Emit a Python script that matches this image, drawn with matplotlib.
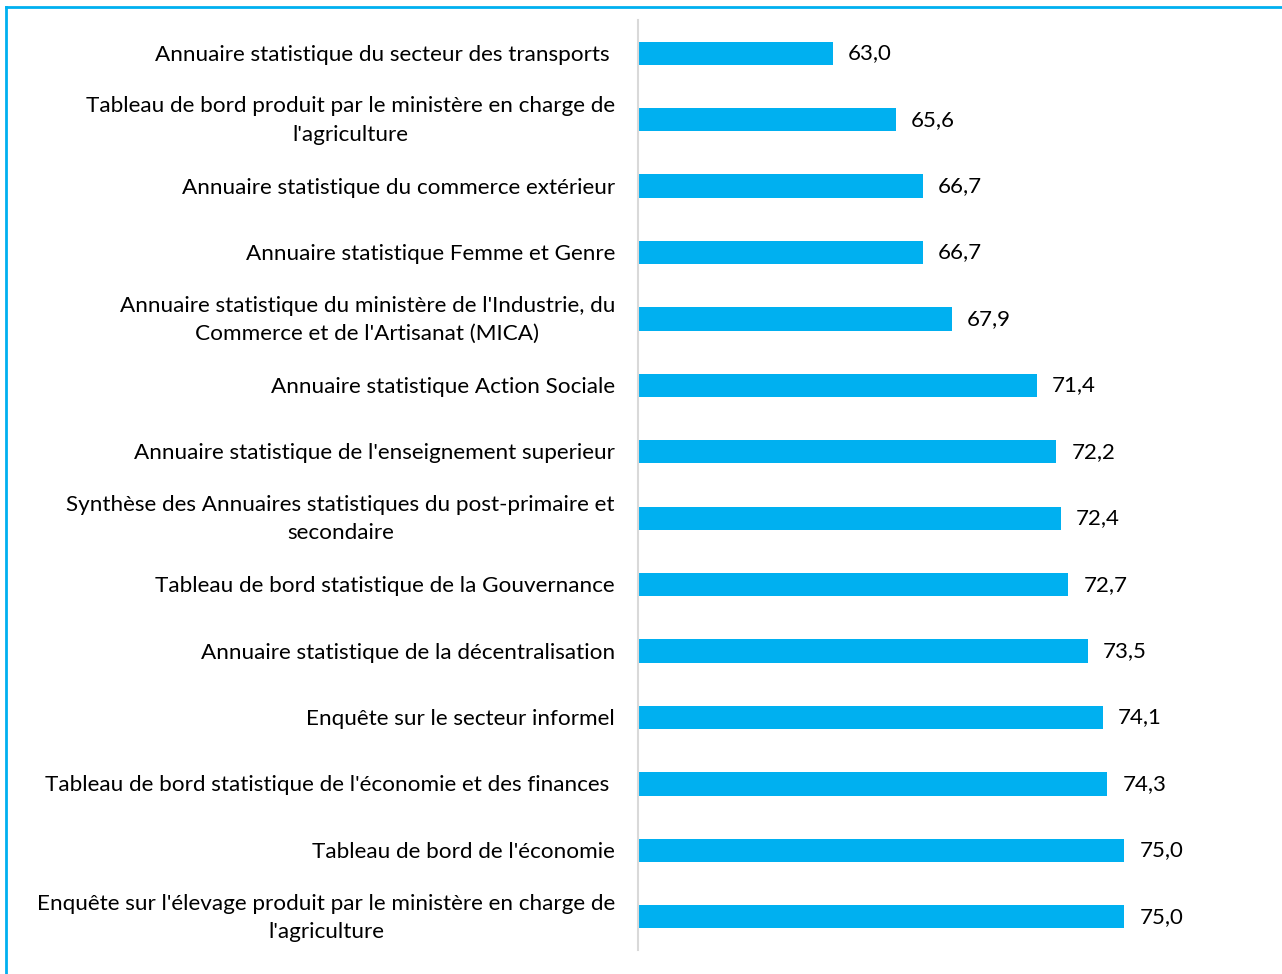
import matplotlib.pyplot as plt
from matplotlib.lines import Line2D
from matplotlib.transforms import offset_copy

plt.rcParams["font.family"] = ["Lato", "DejaVu Sans"]

labels = [
    "Annuaire statistique du secteur des transports ",
    "Tableau de bord produit par le ministère en charge de\nl'agriculture",
    "Annuaire statistique du commerce extérieur",
    "Annuaire statistique Femme et Genre",
    "Annuaire statistique du ministère de l'Industrie, du\nCommerce et de l'Artisanat (MICA)",
    "Annuaire statistique Action Sociale",
    "Annuaire statistique de l'enseignement superieur",
    "Synthèse des Annuaires statistiques du post-primaire et\nsecondaire",
    "Tableau de bord statistique de la Gouvernance",
    "Annuaire statistique de la décentralisation",
    "Enquête sur le secteur informel",
    "Tableau de bord statistique de l'économie et des finances ",
    "Tableau de bord de l'économie",
    "Enquête sur l'élevage produit par le ministère en charge de\nl'agriculture",
]
values = [63.0, 65.6, 66.7, 66.7, 67.9, 71.4, 72.2, 72.4, 72.7, 73.5, 74.1, 74.3, 75.0, 75.0]

BLUE = "#00B0F0"

fig = plt.figure(figsize=(12.82, 9.74), dpi=100)
ax = fig.add_axes([638 / 1282, 1 - 950 / 974, (1246 - 638) / 1282, 930 / 974])

y = list(range(len(values)))
ax.barh(y, [v - 55 for v in values], left=55, height=0.35, color=BLUE)
ax.set_ylim(len(values) - 0.5, -0.5)
ax.set_xlim(55, 80)
ax.set_yticks([])
ax.set_xticks([])
for s in ["top", "right", "bottom"]:
    ax.spines[s].set_visible(False)
ax.spines["left"].set_color("#D9D9D9")
ax.spines["left"].set_linewidth(1.5)

# category labels, right aligned left of the axis
for yi, lab in zip(y, labels):
    dy = -1 if "\n" in lab else -1.5
    tr = offset_copy(ax.get_yaxis_transform(), fig=fig, x=-23, y=dy, units="dots")
    ax.text(0, yi, lab, transform=tr, ha="right", va="center",
            multialignment="center", linespacing=1.52, fontsize=16.2, clip_on=False)

for yi, v in zip(y, values):
    ax.text(v + 0.62, yi, f"{v:.1f}".replace(".", ","), va="center", ha="left", fontsize=16)

# chart border (top and left visible)
fig.add_artist(Line2D([6 / 1282, 1], [1 - 7 / 974, 1 - 7 / 974], color=BLUE, lw=2, transform=fig.transFigure))
fig.add_artist(Line2D([6 / 1282, 6 / 1282], [0, 1 - 7 / 974], color=BLUE, lw=2, transform=fig.transFigure))

fig.savefig("out.png", dpi=100)
